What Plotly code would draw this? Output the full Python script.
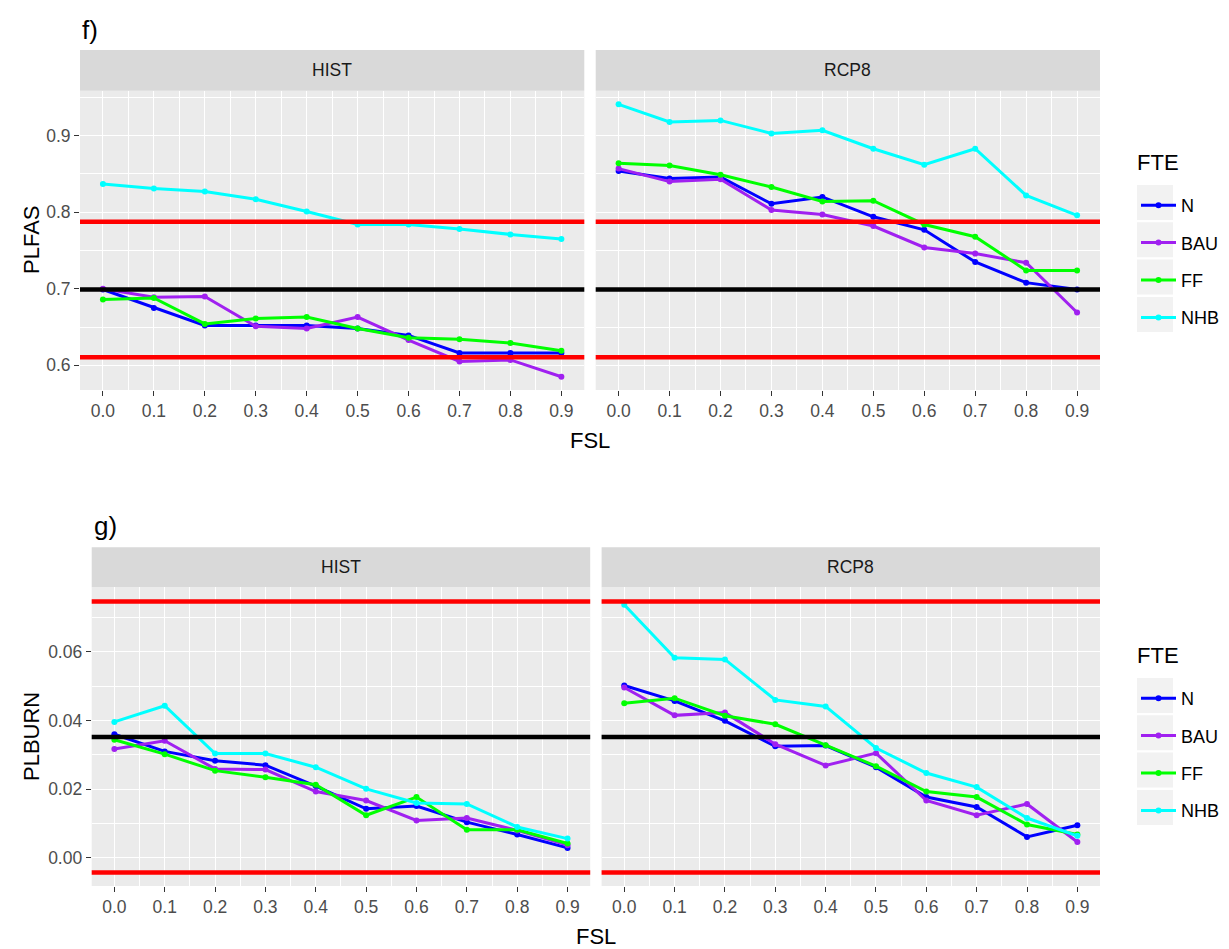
import plotly.graph_objects as go

W, H = 1229, 949

FSL = [0.0, 0.1, 0.2, 0.3, 0.4, 0.5, 0.6, 0.7, 0.8, 0.9]
FTE = ["N", "BAU", "FF", "NHB"]
COLORS = {"N": "#0000FF", "BAU": "#A020F0", "FF": "#00FF00", "NHB": "#00FFFF"}

# PLFAS, HIST
plfas_hist_N = [0.699, 0.675, 0.652, 0.652, 0.652, 0.648, 0.639, 0.616, 0.616, 0.616]
plfas_hist_BAU = [0.700, 0.689, 0.690, 0.651, 0.648, 0.663, 0.633, 0.605, 0.607, 0.585]
plfas_hist_FF = [0.686, 0.688, 0.654, 0.661, 0.663, 0.648, 0.636, 0.634, 0.629, 0.619]
plfas_hist_NHB = [0.837, 0.831, 0.827, 0.817, 0.801, 0.784, 0.784, 0.778, 0.771, 0.765]
# PLFAS, RCP8
plfas_rcp8_N = [0.854, 0.844, 0.846, 0.811, 0.820, 0.794, 0.777, 0.735, 0.708, 0.699]
plfas_rcp8_BAU = [0.857, 0.840, 0.843, 0.803, 0.797, 0.782, 0.754, 0.746, 0.734, 0.669]
plfas_rcp8_FF = [0.864, 0.861, 0.849, 0.833, 0.814, 0.815, 0.784, 0.768, 0.724, 0.724]
plfas_rcp8_NHB = [0.941, 0.918, 0.920, 0.903, 0.907, 0.883, 0.862, 0.883, 0.822, 0.796]
# PLBURN, HIST
plburn_hist_N = [0.0360, 0.0310, 0.0283, 0.0270, 0.0209, 0.0143, 0.0151, 0.0104, 0.0068, 0.0029]
plburn_hist_BAU = [0.0317, 0.0341, 0.0259, 0.0257, 0.0193, 0.0167, 0.0109, 0.0116, 0.0080, 0.0037]
plburn_hist_FF = [0.0344, 0.0302, 0.0254, 0.0235, 0.0213, 0.0124, 0.0177, 0.0082, 0.0082, 0.0042]
plburn_hist_NHB = [0.0396, 0.0443, 0.0304, 0.0304, 0.0264, 0.0201, 0.0160, 0.0157, 0.0090, 0.0056]
# PLBURN, RCP8
plburn_rcp8_N = [0.0502, 0.0457, 0.0399, 0.0325, 0.0327, 0.0264, 0.0177, 0.0148, 0.0061, 0.0095]
plburn_rcp8_BAU = [0.0496, 0.0415, 0.0423, 0.0331, 0.0269, 0.0305, 0.0167, 0.0124, 0.0157, 0.0046]
plburn_rcp8_FF = [0.0450, 0.0465, 0.0414, 0.0389, 0.0328, 0.0267, 0.0193, 0.0177, 0.0097, 0.0068]
plburn_rcp8_NHB = [0.0737, 0.0583, 0.0578, 0.0460, 0.0441, 0.0320, 0.0247, 0.0206, 0.0116, 0.0064]

# reference lines
plfas_red = [0.6105, 0.7875]
plfas_black = [0.699]
plburn_red = [-0.0043, 0.0747]
plburn_black = [0.0352]

SERIES = {
    ("PLFAS", "HIST"): dict(N=plfas_hist_N, BAU=plfas_hist_BAU, FF=plfas_hist_FF, NHB=plfas_hist_NHB),
    ("PLFAS", "RCP8"): dict(N=plfas_rcp8_N, BAU=plfas_rcp8_BAU, FF=plfas_rcp8_FF, NHB=plfas_rcp8_NHB),
    ("PLBURN", "HIST"): dict(N=plburn_hist_N, BAU=plburn_hist_BAU, FF=plburn_hist_FF, NHB=plburn_hist_NHB),
    ("PLBURN", "RCP8"): dict(N=plburn_rcp8_N, BAU=plburn_rcp8_BAU, FF=plburn_rcp8_FF, NHB=plburn_rcp8_NHB),
}


def fx(px):
    return px / W


def fy(py):
    return 1 - py / H


FONT = "Liberation Sans, Arial, sans-serif"
TICKC = "#4D4D4D"
PANEL = "#EBEBEB"
STRIP = "#D9D9D9"

# panel geometry in px (left, right, top, bottom)
panels = {
    ("PLFAS", "HIST"): (80, 584.3, 90.7, 390),
    ("PLFAS", "RCP8"): (595.7, 1100, 90.7, 390),
    ("PLBURN", "HIST"): (91.7, 590.2, 587.3, 886),
    ("PLBURN", "RCP8"): (601.6, 1100, 587.3, 886),
}
strips = {"PLFAS": (50, 90.7), "PLBURN": (547.3, 587.3)}
yranges = {"PLFAS": [0.5677, 0.9588], "PLBURN": [-0.0082, 0.0788]}
ydtick = {"PLFAS": (0.1, 0.05, ".1f"), "PLBURN": (0.02, 0.01, ".2f")}
reflines = {"PLFAS": (plfas_red, plfas_black), "PLBURN": (plburn_red, plburn_black)}
legend_title_y = {"PLFAS": 162, "PLBURN": 655}
legend_keys_top = {"PLFAS": 185, "PLBURN": 678}
KEY_STEP = 37.3

fig = go.Figure()
shapes = []
annotations = []

order = [("PLFAS", "HIST"), ("PLFAS", "RCP8"), ("PLBURN", "HIST"), ("PLBURN", "RCP8")]
layout_axes = {}
for i, key in enumerate(order, start=1):
    var, scen = key
    l, r, t, b = panels[key]
    xa = "x" if i == 1 else f"x{i}"
    ya = "y" if i == 1 else f"y{i}"
    xname = "xaxis" if i == 1 else f"xaxis{i}"
    yname = "yaxis" if i == 1 else f"yaxis{i}"
    major, minor, fmt = ydtick[var]
    layout_axes[xname] = dict(
        domain=[fx(l), fx(r)], anchor=ya, range=[-0.045, 0.945],
        tickmode="array", tickvals=FSL, ticktext=[f"{v:.1f}" for v in FSL],
        showgrid=True, gridcolor="white", gridwidth=1.4,
        minor=dict(tickmode="array", tickvals=[v + 0.05 for v in FSL[:-1]],
                   showgrid=True, gridcolor="white", gridwidth=0.7, ticks=""),
        ticks="outside", ticklen=5, tickwidth=1.2, tickcolor="#333333",
        tickfont=dict(family=FONT, size=17.5, color=TICKC),
        zeroline=False, showline=False, fixedrange=True,
    )
    layout_axes[yname] = dict(
        domain=[fy(b), fy(t)], anchor=xa, range=yranges[var],
        dtick=major, tick0=0, tickformat=fmt,
        showgrid=True, gridcolor="white", gridwidth=1.4,
        minor=dict(dtick=minor, tick0=0, showgrid=True, gridcolor="white", gridwidth=0.7, ticks=""),
        ticks="outside" if scen == "HIST" else "", ticklen=5, tickwidth=1.2, tickcolor="#333333",
        showticklabels=(scen == "HIST"),
        tickfont=dict(family=FONT, size=17.5, color=TICKC),
        zeroline=False, showline=False, fixedrange=True,
    )

    # panel background
    shapes.append(dict(type="rect", xref="paper", yref="paper", x0=fx(l), x1=fx(r),
                       y0=fy(b), y1=fy(t), fillcolor=PANEL, line=dict(width=0), layer="below"))
    # strip
    st, sb = strips[var]
    shapes.append(dict(type="rect", xref="paper", yref="paper", x0=fx(l), x1=fx(r),
                       y0=fy(sb), y1=fy(st), fillcolor=STRIP, line=dict(width=0), layer="below"))
    annotations.append(dict(text=scen, xref="paper", yref="paper", x=fx((l + r) / 2),
                            y=fy((st + sb) / 2), showarrow=False, xanchor="center", yanchor="middle",
                            font=dict(family=FONT, size=17.5, color="#1A1A1A")))

    legend_name = "legend" if var == "PLFAS" else "legend2"
    for name in FTE:
        fig.add_trace(go.Scatter(
            x=FSL, y=SERIES[key][name], mode="lines+markers", name=name,
            line=dict(color=COLORS[name], width=3),
            marker=dict(color=COLORS[name], size=6),
            xaxis=xa, yaxis=ya,
            legend=legend_name, legendgroup=f"{var}_{name}",
            showlegend=(scen == "HIST"),
        ))

    reds, blacks = reflines[var]
    for v in reds:
        shapes.append(dict(type="line", xref=f"{xa} domain", yref=ya, x0=0, x1=1, y0=v, y1=v,
                           line=dict(color="#FF0000", width=4.5), layer="above"))
    for v in blacks:
        shapes.append(dict(type="line", xref=f"{xa} domain", yref=ya, x0=0, x1=1, y0=v, y1=v,
                           line=dict(color="#000000", width=4.5), layer="above"))

# axis titles and panel labels
for txt, x, y in [("FSL", 590, 440), ("FSL", 596, 936)]:
    annotations.append(dict(text=txt, xref="paper", yref="paper", x=fx(x), y=fy(y), showarrow=False,
                            xanchor="center", yanchor="middle", font=dict(family=FONT, size=22, color="black")))
for txt, y in [("PLFAS", 240), ("PLBURN", 737)]:
    annotations.append(dict(text=txt, xref="paper", yref="paper", x=fx(31), y=fy(y), showarrow=False,
                            textangle=-90, xanchor="center", yanchor="middle",
                            font=dict(family=FONT, size=22, color="black")))
for txt, x, y in [("f)", 80, 30), ("g)", 91.7, 526)]:
    annotations.append(dict(text=txt, xref="paper", yref="paper", x=fx(x), y=fy(y), showarrow=False,
                            xanchor="left", yanchor="middle", font=dict(family=FONT, size=26, color="black")))

# legend titles and key backgrounds
for var in ("PLFAS", "PLBURN"):
    annotations.append(dict(text="FTE", xref="paper", yref="paper", x=fx(1135), y=fy(legend_title_y[var]),
                            showarrow=False, xanchor="left", yanchor="middle",
                            font=dict(family=FONT, size=22, color="black")))
    top = legend_keys_top[var]
    for k in range(4):
        y0 = top + k * KEY_STEP
        shapes.append(dict(type="rect", xref="paper", yref="paper", x0=fx(1137), x1=fx(1173),
                           y0=fy(y0 + 35), y1=fy(y0), fillcolor="#F2F2F2", line=dict(width=0), layer="below"))

leg_common = dict(xanchor="left", yanchor="top", bgcolor="rgba(0,0,0,0)", borderwidth=0,
                  font=dict(family=FONT, size=18, color="black"), tracegroupgap=11,
                  itemwidth=35, itemclick="toggle")
fig.update_layout(
    width=W, height=H, margin=dict(l=0, r=0, t=0, b=0),
    paper_bgcolor="white", plot_bgcolor="rgba(0,0,0,0)",
    font=dict(family=FONT),
    legend=dict(x=fx(1136), y=fy(legend_keys_top["PLFAS"] + 2), **leg_common),
    legend2=dict(x=fx(1136), y=fy(legend_keys_top["PLBURN"] + 2), **leg_common),
    shapes=shapes, annotations=annotations, **layout_axes,
)

fig.write_html("out.html", config={"displayModeBar": False},
               post_script="document.body.style.margin='0';")
